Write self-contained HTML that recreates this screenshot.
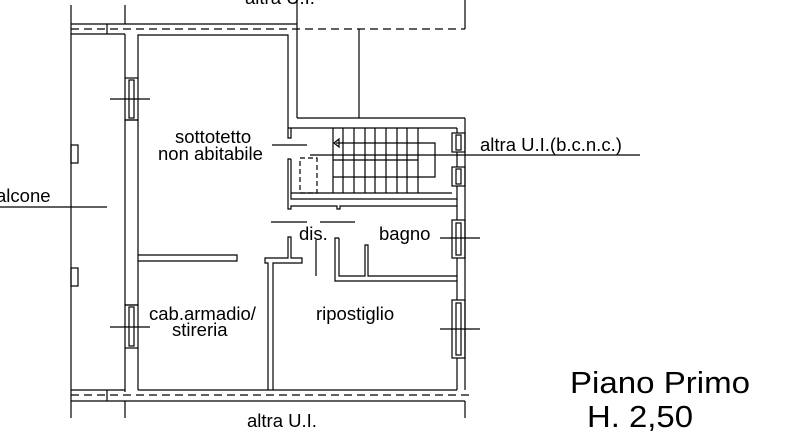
<!DOCTYPE html>
<html><head><meta charset="utf-8"><style>
html,body{margin:0;padding:0;background:#fff;}
svg{display:block;}
text{font-family:"Liberation Sans",sans-serif;fill:#000;}
</style></head><body>
<svg width="800" height="435" viewBox="0 0 800 435" xmlns="http://www.w3.org/2000/svg">
<g stroke="#000" stroke-width="1.2" fill="none">
<line x1="71" y1="5" x2="71" y2="418"/>
<line x1="125" y1="5" x2="125" y2="24"/>
<line x1="297" y1="0" x2="297" y2="118"/>
<line x1="465" y1="0" x2="465" y2="29"/>
<line x1="359" y1="29" x2="359" y2="118"/>
<line x1="71" y1="24" x2="297" y2="24"/>
<line x1="71" y1="29" x2="465" y2="29" stroke-dasharray="8,5"/>
<line x1="71" y1="34" x2="125" y2="34"/>
<line x1="107" y1="24" x2="107" y2="34"/>
<polyline points="138,78 138,35 288,35 288,128 457,128"/>
<line x1="297" y1="118" x2="465" y2="118"/>
<line x1="125" y1="34" x2="125" y2="78"/>
<rect x="125" y="78" width="13" height="42"/>
<rect x="129" y="80" width="5" height="38"/>
<rect x="125" y="120" width="13" height="185"/>
<rect x="125" y="305" width="13" height="43"/>
<rect x="129" y="307" width="5" height="39"/>
<line x1="125" y1="348" x2="125" y2="392"/>
<line x1="138" y1="348" x2="138" y2="390"/>
<line x1="110" y1="99" x2="150" y2="99"/>
<line x1="110" y1="327" x2="150" y2="327"/>
<rect x="71" y="145" width="7" height="18"/>
<rect x="71" y="268" width="7" height="18"/>
<line x1="0" y1="207" x2="107" y2="207"/>
<line x1="138" y1="390" x2="457" y2="390"/>
<line x1="71" y1="390" x2="125" y2="390"/>
<line x1="71" y1="395" x2="470" y2="395" stroke-dasharray="8,5"/>
<line x1="71" y1="401" x2="465" y2="401"/>
<line x1="107" y1="390" x2="107" y2="401"/>
<line x1="125" y1="401" x2="125" y2="418"/>
<line x1="465" y1="401" x2="465" y2="418"/>
<polyline points="138,255 237,255 237,261 138,261"/>
<polyline points="268,390 268,263 265,263 265,258 288,258 288,237 291,237 291,258 302,258 302,263 273,263 273,390"/>
<polyline points="339,238 335,238 335,281 457,281"/>
<polyline points="339,238 339,276 365,276 365,245 368,245 368,276 457,276"/>
<line x1="271" y1="222" x2="307" y2="222"/>
<line x1="320" y1="222" x2="355" y2="222"/>
<line x1="316" y1="240" x2="316" y2="276"/>
<polyline points="288,128 288,138 291,138 291,128"/>
<polyline points="291,159 288,159 288,209 291,209 291,206 337,206 337,209 340,209 340,206 457,206"/>
<polyline points="291,159 291,199 457,199"/>
<line x1="291" y1="193" x2="452" y2="193"/>
<rect x="300" y="158" width="17" height="35" stroke-dasharray="5,3"/>
<g>
<line x1="333" y1="128" x2="333" y2="193"/>
<line x1="343" y1="128" x2="343" y2="193"/>
<line x1="354" y1="128" x2="354" y2="193"/>
<line x1="365" y1="128" x2="365" y2="193"/>
<line x1="375" y1="128" x2="375" y2="193"/>
<line x1="386" y1="128" x2="386" y2="193"/>
<line x1="397" y1="128" x2="397" y2="193"/>
<line x1="407" y1="128" x2="407" y2="193"/>
<line x1="418" y1="128" x2="418" y2="193"/>
<line x1="333" y1="160" x2="418" y2="160"/>
<polyline points="336,143 435,143 435,177 333,177"/>
<polygon points="334,143 339,139 339,147"/>
</g>
<line x1="272" y1="145" x2="307" y2="145"/>
<line x1="310" y1="155" x2="640" y2="155"/>
<line x1="457" y1="128" x2="457" y2="133"/>
<line x1="465" y1="118" x2="465" y2="390"/>
<line x1="457" y1="152" x2="457" y2="167"/>
<line x1="457" y1="186" x2="457" y2="220"/>
<line x1="457" y1="258" x2="457" y2="300"/>
<line x1="457" y1="358" x2="457" y2="390"/>
<rect x="452" y="133" width="13" height="19"/><rect x="456" y="135" width="5" height="15"/>
<rect x="452" y="167" width="13" height="19"/><rect x="456" y="169" width="5" height="15"/>
<rect x="452" y="220" width="13" height="38"/><rect x="456" y="223" width="5" height="32"/>
<rect x="452" y="300" width="13" height="58"/><rect x="456" y="303" width="5" height="52"/>
<line x1="440" y1="238" x2="480" y2="238"/>
<line x1="440" y1="329" x2="480" y2="329"/>
</g>
<g font-size="18.5">
<text x="245" y="4">altra U.I.</text>
<text x="175" y="143">sottotetto</text>
<text x="158" y="160">non abitabile</text>
<text x="-4" y="202">alcone</text>
<text x="480" y="151">altra U.I.(b.c.n.c.)</text>
<text x="299" y="240">dis.</text>
<text x="379" y="240">bagno</text>
<text x="149" y="320">cab.armadio/</text>
<text x="172" y="336">stireria</text>
<text x="316" y="320">ripostiglio</text>
<text x="247" y="427">altra U.I.</text>
</g>
<text x="570" y="393" font-size="31" textLength="180" lengthAdjust="spacingAndGlyphs">Piano Primo</text>
<text x="587" y="427" font-size="31" textLength="106" lengthAdjust="spacingAndGlyphs">H. 2,50</text>
</svg>
</body></html>
